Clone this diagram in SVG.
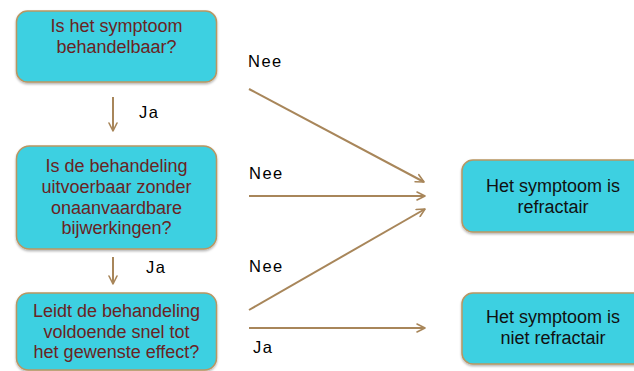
<svg xmlns="http://www.w3.org/2000/svg" width="634" height="371" viewBox="0 0 634 371">
<style>
.box{fill:#3dd0e1;stroke:#b99662;stroke-width:1.5}
.q{font-family:"Liberation Sans",Arial,sans-serif;font-size:18px;fill:#6a2323;text-anchor:middle}
.a{font-family:"Liberation Sans",Arial,sans-serif;font-size:18px;fill:#111;text-anchor:middle}
.lbl{font-family:"Liberation Sans",Arial,sans-serif;font-size:16.5px;letter-spacing:1.5px;fill:#000}
.c{stroke:#a8865a;stroke-width:2;fill:none;marker-end:url(#ah)}
</style>
<defs>
<marker id="ah" viewBox="0 0 10 10" refX="9" refY="5" markerWidth="5" markerHeight="5" orient="auto" markerUnits="strokeWidth">
<path d="M1,1 L9,5 L1,9" fill="none" stroke="#a8865a" stroke-width="1.6" stroke-linecap="round" stroke-linejoin="round"/>
</marker>
<filter id="sh" x="-10%" y="-10%" width="120%" height="130%">
<feDropShadow dx="0" dy="1.5" stdDeviation="1.2" flood-color="#000" flood-opacity="0.3"/>
</filter>
</defs>
<rect width="634" height="371" fill="#fff"/>
<g id="n1">
<rect class="box" x="16.5" y="11" width="200" height="71" rx="11" filter="url(#sh)"/>
<text class="q" x="116.5" y="32">Is het symptoom</text>
<text class="q" x="116.5" y="53">behandelbaar?</text>
</g>
<g id="n2">
<rect class="box" x="16.5" y="146" width="200" height="103" rx="13" filter="url(#sh)"/>
<text class="q" x="116.5" y="172">Is de behandeling</text>
<text class="q" x="116.5" y="193">uitvoerbaar zonder</text>
<text class="q" x="116.5" y="213.5">onaanvaardbare</text>
<text class="q" x="116.5" y="234">bijwerkingen?</text>
</g>
<g id="n3">
<rect class="box" x="16.5" y="293" width="200" height="77" rx="12" filter="url(#sh)"/>
<text class="q" x="116.5" y="317">Leidt de behandeling</text>
<text class="q" x="116.5" y="337.5">voldoende snel tot</text>
<text class="q" x="116.5" y="358">het gewenste effect?</text>
</g>
<g id="n4">
<rect class="box" x="462" y="160" width="190" height="72" rx="11" filter="url(#sh)"/>
<text class="a" x="553" y="192">Het symptoom is</text>
<text class="a" x="553" y="213">refractair</text>
</g>
<g id="n5">
<rect class="box" x="462" y="293" width="190" height="71" rx="11" filter="url(#sh)"/>
<text class="a" x="553" y="323">Het symptoom is</text>
<text class="a" x="553" y="344">niet refractair</text>
</g>
<g id="connectors">
<line class="c" x1="113" y1="97" x2="113" y2="131"/>
<line class="c" x1="113" y1="257" x2="113" y2="284"/>
<line class="c" x1="249" y1="89" x2="424" y2="182"/>
<line class="c" x1="249" y1="196" x2="425" y2="196"/>
<line class="c" x1="249" y1="310" x2="425" y2="209"/>
<line class="c" x1="249" y1="328" x2="425" y2="328"/>
<text class="lbl" x="139" y="118">Ja</text>
<text class="lbl" x="146" y="273">Ja</text>
<text class="lbl" x="248" y="67">Nee</text>
<text class="lbl" x="249" y="179">Nee</text>
<text class="lbl" x="249" y="272">Nee</text>
<text class="lbl" x="253" y="353">Ja</text>
</g>
</svg>
